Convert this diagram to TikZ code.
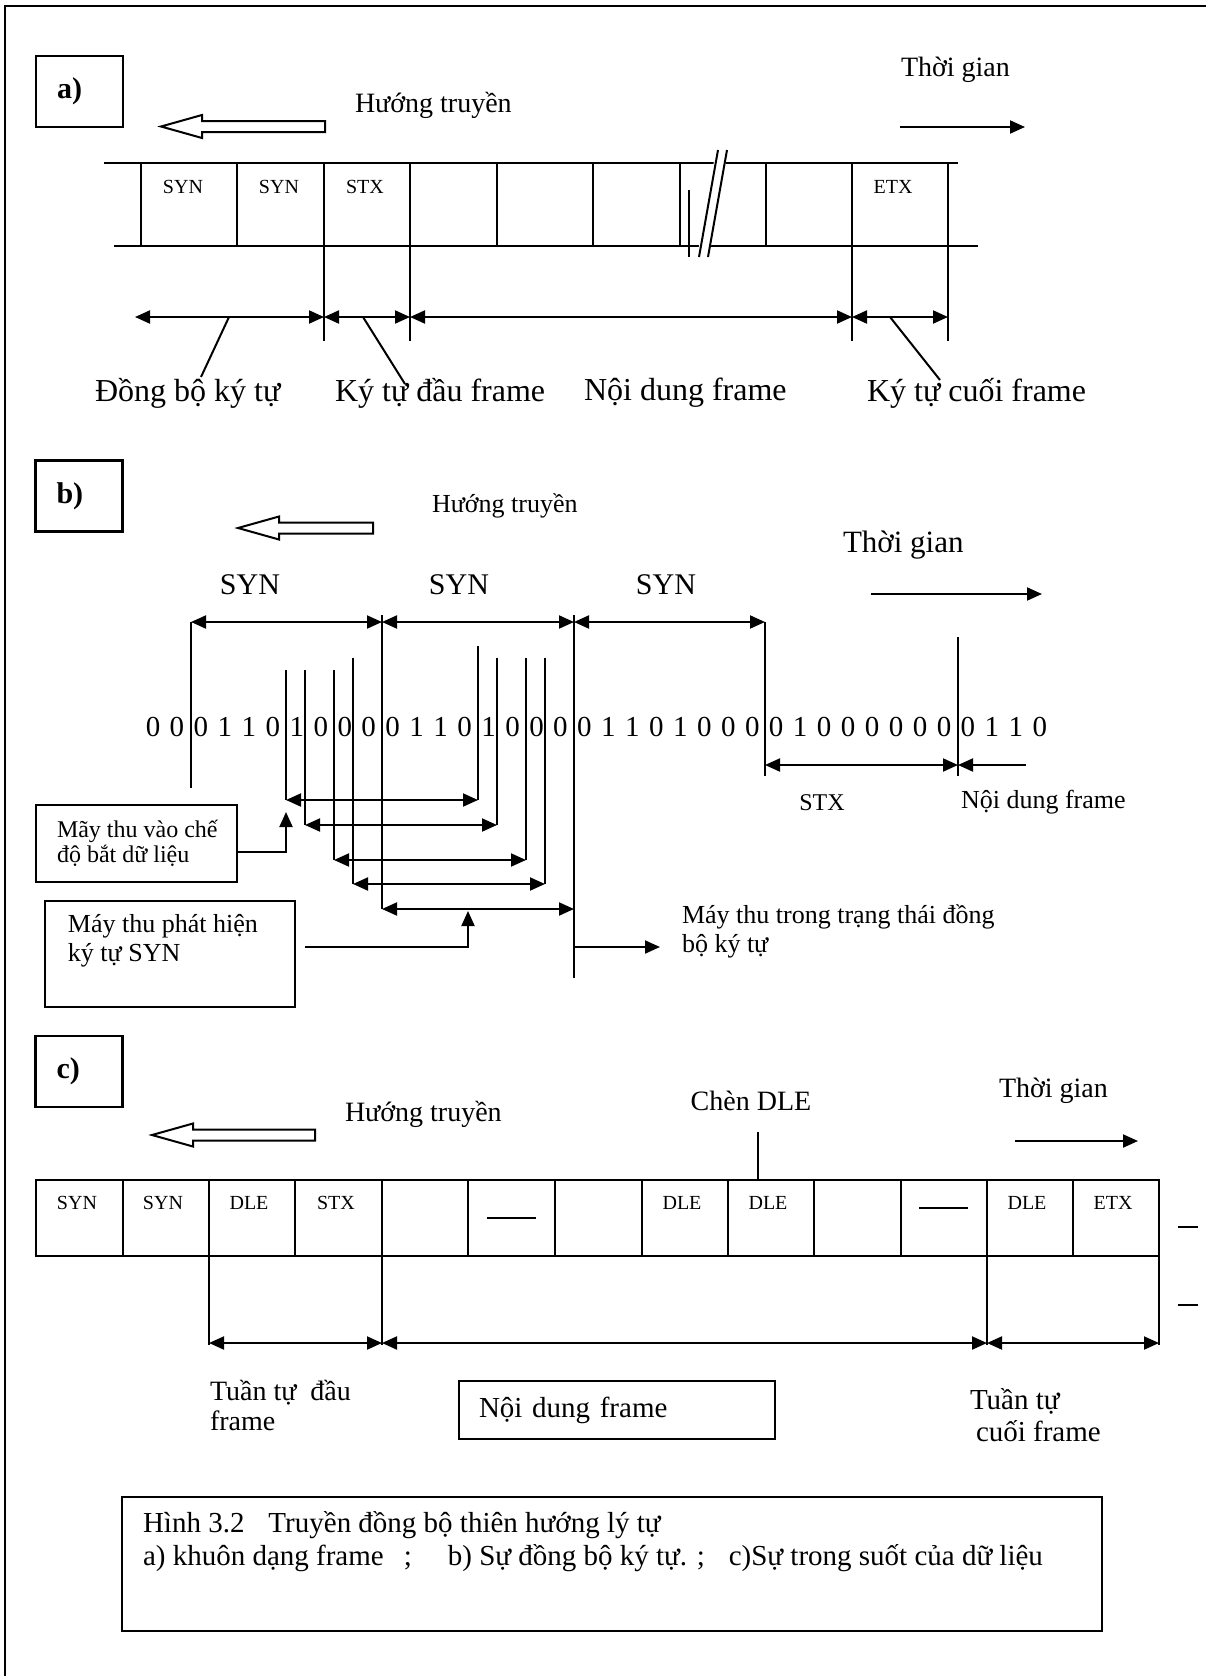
\documentclass[tikz,border=0pt]{standalone}
\usepackage{fontspec}
\setmainfont{Liberation Serif}
\usetikzlibrary{arrows.meta}

\newcommand{\hollowarrow}[3]{%
  \draw[line width=1pt] ({#1},{#2-5.5}) -- ({#1-#3+41},{#2-5.5}) -- ({#1-#3+41},{#2-11.5})
    -- ({#1-#3},{#2}) -- ({#1-#3+41},{#2+11.5}) -- ({#1-#3+41},{#2+5.5}) -- ({#1},{#2+5.5}) -- cycle;}

\begin{document}
\begin{tikzpicture}[x=0.5pt, y=-0.5pt, line width=1pt,
    dimarrow/.style={{Triangle[length=7.5pt,width=6.5pt]}-{Triangle[length=7.5pt,width=6.5pt]}},
    onearrow/.style={-{Triangle[length=7.5pt,width=6.5pt]}},
    tagbox/.style={draw, line width=1.3pt, inner xsep=10.5pt, text width=22.5pt, align=left,
                   minimum height=35.5pt, font=\fontsize{15}{18}\selectfont\bfseries},
    plainbox/.style={draw, line width=1.3pt, inner sep=0pt},
    celltext/.style={font=\fontsize{10}{12}\selectfont, inner sep=0pt},
    bigtext/.style={font=\fontsize{16}{19}\selectfont, inner sep=0pt, anchor=west},
    medtext/.style={font=\fontsize{14}{17}\selectfont, inner sep=0pt, anchor=west},
    bittext/.style={font=\fontsize{15}{18}\selectfont, inner sep=0pt},
    notetext/.style={align=left, inner sep=0pt, anchor=west}]
  \useasboundingbox (0,0) rectangle (1206,1676);
  \draw[line width=1.2pt] (5,1676) -- (5,6) -- (1206,6);

  % a)
  \node[tagbox] (taga) at (79.5,91.5) {a)};
  \node[medtext] (dira) at (354,105) {Hướng truyền};
  \hollowarrow{325}{126.5}{164}
  \node[medtext] (timea) at (900,70) {Thời gian};
  \coordinate (ta0) at (900,127); \coordinate (ta1) at (1025,127);
  \draw[onearrow] (ta0) -- (ta1);
  \draw (104,163) -- (958,163);
  \draw (114,246) -- (978,246);
  \foreach \x in {141,237,324,410,497,593,680,766,852,948}
    \draw (\x,163) -- (\x,246);
  \draw (689,190) -- (689,257);
  \fill[white] (716,150) -- (728,150) -- (709,257) -- (697,257) -- cycle;
  \draw (718,150) -- (699,257);
  \draw (727,150) -- (708,257);
  \foreach \x in {324,410,852,948}
    \draw (\x,246) -- (\x,341);
  \foreach \n/\x in {0/135,1/324,2/410,3/852,4/948}
    \coordinate (da\n) at (\x,317);
  \foreach \n [evaluate=\n as \m using int(\n+1)] in {0,...,3}
    \draw[dimarrow] (da\n) -- (da\m);
  \node[celltext] (ca1) at (183,187) {SYN};
  \node[celltext] (ca2) at (279,187) {SYN};
  \node[celltext] (ca3) at (365,187) {STX};
  \node[celltext] (ca4) at (893,187) {ETX};
  \node[bigtext] (la1) at (94,393) {Đồng bộ ký tự};
  \node[bigtext] (la2) at (334,393) {Ký tự đầu frame};
  \node[bigtext] (la3) at (583,393) {Nội dung frame};
  \node[bigtext] (la4) at (866,393) {Ký tự cuối frame};
  \draw (229,317) -- (201,377);
  \draw (363,317) -- (405,384);
  \draw (890,317) -- (940,380);

  % b)
  \node[tagbox] (tagb) at (79,496) {b)};
  \node[medtext, font=\fontsize{13}{16}\selectfont] (dirb) at (431,506) {Hướng truyền};
  \hollowarrow{373}{528}{135}
  \node[medtext, font=\fontsize{15.5}{18}\selectfont] (timeb) at (842,545) {Thời gian};
  \coordinate (tb0) at (871,594); \coordinate (tb1) at (1042,594);
  \draw[onearrow] (tb0) -- (tb1);
  \foreach \x [count=\i] in {250,459,666}
    \node[bittext] (syn\i) at (\x,585) {SYN};
  \foreach \n/\x in {0/191,1/382,2/574,3/765}
    \coordinate (db\n) at (\x,622);
  \foreach \n [evaluate=\n as \m using int(\n+1)] in {0,...,2}
    \draw[dimarrow] (db\n) -- (db\m);
  \draw (191,622) -- (191,788);
  \draw (382,615) -- (382,909);
  \draw (574,615) -- (574,978);
  \draw (765,622) -- (765,776);
  \draw (958,637) -- (958,776);
  \foreach \b [count=\i from 0] in {0,0,0,1,1,0,1,0,0,0,0,1,1,0,1,0,0,0,0,1,1,0,1,0,0,0,0,1,0,0,0,0,0,0,0,1,1,0}
    \node[bittext, font=\fontsize{14.5}{17}\selectfont] (bit\i) at ({153+23.97*\i},727) {\b};
  \foreach \x/\t/\y in {286/670/800,305/670/825,334/670/860,353/658/884,478/646/800,497/658/825,526/658/860,545/658/884}
    \draw (\x,\t) -- (\x,\y);
  \foreach \l/\r/\y [count=\k] in {286/478/800,305/497/825,334/526/860,353/545/884,382/574/909} {
    \coordinate (sl\k) at (\l,\y); \coordinate (sr\k) at (\r,\y);
    \draw[dimarrow] (sl\k) -- (sr\k);
  }
  \node[plainbox, minimum width=100.5pt, minimum height=38.5pt] (capture) at (136.5,843.5) {};
  \node[notetext, font=\fontsize{12}{12.5}\selectfont] (capturetxt) at (56,843.5) {Mãy thu vào chế\\độ bắt dữ liệu};
  \coordinate (captureout) at (237,852); \coordinate (capturetip) at (286,812);
  \draw[onearrow] (captureout) -| (capturetip);
  \node[plainbox, minimum width=125pt, minimum height=53pt] (detect) at (170,954) {};
  \node[notetext, anchor=north west, font=\fontsize{13}{14.5}\selectfont] (detecttxt) at (67,913) {Máy thu phát hiện\\ký tự SYN};
  \coordinate (detectout) at (305,947); \coordinate (detecttip) at (468,911);
  \draw[onearrow] (detectout) -| (detecttip);
  \coordinate (syncout) at (574,947); \coordinate (synctip) at (660,947);
  \draw[onearrow] (syncout) -- (synctip);
  \node[notetext, font=\fontsize{13}{14.5}\selectfont] (synctxt) at (681,931.5) {Máy thu trong trạng thái đồng\\bộ ký tự};
  \node[bittext, font=\fontsize{12}{14}\selectfont] (stxb) at (822,803) {STX};
  \node[medtext, font=\fontsize{13}{16}\selectfont] (bodyb) at (960,802) {Nội dung frame};
  \coordinate (xb0) at (765,765); \coordinate (xb1) at (958,765); \coordinate (xb2) at (1026,765);
  \draw[dimarrow] (xb0) -- (xb1);
  \draw[onearrow] (xb2) -- (xb1);

  % c)
  \node[tagbox] (tagc) at (79,1071.5) {c)};
  \node[medtext] (dirc) at (344,1114) {Hướng truyền};
  \hollowarrow{315}{1135}{163}
  \node[medtext, anchor=center] (dle) at (751,1101) {Chèn DLE};
  \draw (758,1132) -- (758,1180);
  \node[medtext] (timec) at (998,1091) {Thời gian};
  \coordinate (tc0) at (1015,1141); \coordinate (tc1) at (1138,1141);
  \draw[onearrow] (tc0) -- (tc1);
  \draw (36,1180) rectangle (1159,1256);
  \foreach \x in {123,209,295,382,468,555,642,728,814,901,987,1073}
    \draw (\x,1180) -- (\x,1256);
  \foreach \t/\x [count=\k] in {SYN/77,SYN/163,DLE/249,STX/336,DLE/682,DLE/768,DLE/1027,ETX/1113}
    \node[celltext] (cc\k) at (\x,1203) {\t};
  \draw (487,1218) -- (536,1218);
  \draw (919,1208) -- (968,1208);
  \draw (1178,1227) -- (1198,1227);
  \draw (1178,1305) -- (1198,1305);
  \foreach \x in {209,382,987,1159}
    \draw (\x,1256) -- (\x,1345);
  \foreach \n/\x in {0/209,1/382,2/987,3/1159}
    \coordinate (dc\n) at (\x,1343);
  \foreach \n [evaluate=\n as \m using int(\n+1)] in {0,...,2}
    \draw[dimarrow] (dc\n) -- (dc\m);
  \node[notetext, font=\fontsize{14}{15}\selectfont] (headc) at (209,1405) {Tuần tự\ \ đầu\\frame};
  \node[plainbox, text width=138pt, inner xsep=10pt, align=left, minimum height=29pt,
        font=\fontsize{14.5}{16}\selectfont] (bodyc) at (617,1410) {Nội dung frame};
  \node[notetext, font=\fontsize{14.5}{16}\selectfont] (tailc) at (969,1415) {Tuần tự\\\hspace{3pt}cuối frame};

  % caption
  \node[plainbox, minimum width=490pt, minimum height=67pt] (capbox) at (612,1564) {};
  \node[notetext, anchor=north west, font=\fontsize{14.5}{16.5}\selectfont] (captxt) at (142,1510)
    {Hình 3.2\hspace{12pt}Truyền đồng bộ thiên hướng lý tự\\
     a) khuôn dạng frame\hspace{10pt};\hspace{18pt}b) Sự đồng bộ ký tự. ;\hspace{12pt}c)Sự trong suốt của dữ liệu};
\end{tikzpicture}
\end{document}
